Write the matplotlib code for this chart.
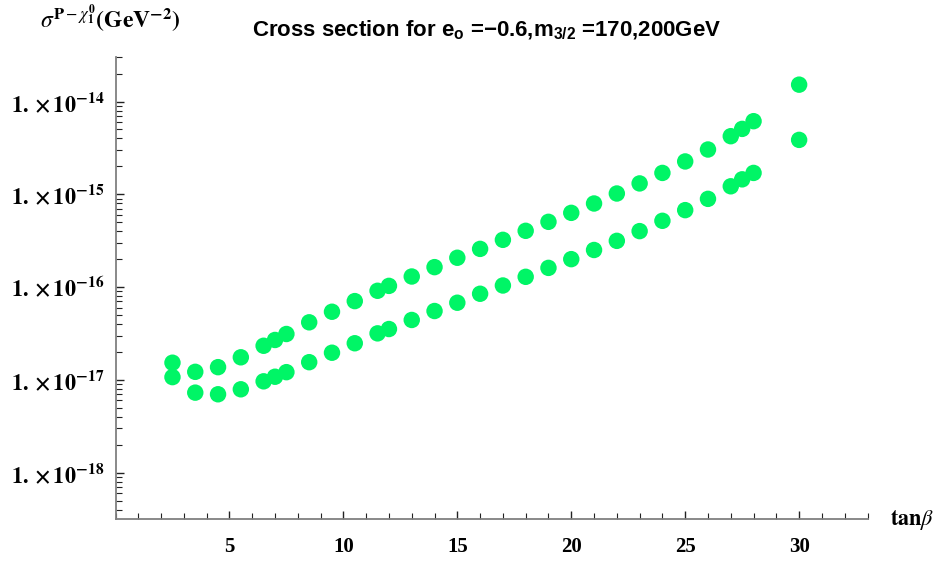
import numpy as np
import matplotlib
matplotlib.use("Agg")
import matplotlib.pyplot as plt
from matplotlib.ticker import FixedLocator, MultipleLocator, LogLocator, NullFormatter

# tan(beta) scan points
tan_beta = [2.5, 3.5, 4.5, 5.5, 6.5, 7, 7.5, 8.5, 9.5, 10.5, 11.5, 12, 13, 14, 15,
            16, 17, 18, 19, 20, 21, 22, 23, 24, 25, 26, 27, 27.5, 28, 30]

# cross sections (GeV^-2), m_3/2 = 170 GeV
sigma_170 = [1.53e-17, 1.22e-17, 1.37e-17, 1.75e-17, 2.33e-17, 2.69e-17, 3.12e-17,
             4.17e-17, 5.42e-17, 7.06e-17, 9.12e-17, 1.03e-16, 1.30e-16, 1.64e-16,
             2.07e-16, 2.58e-16, 3.23e-16, 4.04e-16, 5.05e-16, 6.31e-16, 7.96e-16,
             1.02e-15, 1.31e-15, 1.70e-15, 2.26e-15, 3.04e-15, 4.23e-15, 5.07e-15,
             6.14e-15, 1.52e-14]

# cross sections (GeV^-2), m_3/2 = 200 GeV
sigma_200 = [1.07e-17, 7.28e-18, 6.99e-18, 7.91e-18, 9.64e-18, 1.08e-17, 1.21e-17,
             1.55e-17, 1.96e-17, 2.48e-17, 3.17e-17, 3.53e-17, 4.42e-17, 5.52e-17,
             6.78e-17, 8.47e-17, 1.04e-16, 1.29e-16, 1.61e-16, 2.00e-16, 2.51e-16,
             3.15e-16, 4.01e-16, 5.18e-16, 6.75e-16, 8.93e-16, 1.22e-15, 1.45e-15,
             1.70e-15, 3.86e-15]

x_ticks = [5, 10, 15, 20, 25, 30]
y_decades = [-18, -17, -16, -15, -14]

plt.rcParams["mathtext.fontset"] = "custom"
plt.rcParams["mathtext.rm"] = "Liberation Sans:bold"
plt.rcParams["mathtext.bf"] = "Liberation Sans:bold"
plt.rcParams["mathtext.it"] = "Liberation Sans:bold"

fig = plt.figure(figsize=(9.38, 5.61), dpi=100)
ax = fig.add_axes([115.5 / 938, 42 / 561, 752 / 938, 462 / 561])

green = "#00F566"
for sig in (sigma_170, sigma_200):
    ax.scatter(tan_beta, sig, s=140, color=green, edgecolors="none", zorder=3)

ax.set_yscale("log")
ax.set_xlim(0, 33)
ax.set_ylim(10 ** -18.5, 10 ** -13.52)

for side in ("top", "right"):
    ax.spines[side].set_visible(False)
for side in ("left", "bottom"):
    ax.spines[side].set_color("#808080")
    ax.spines[side].set_linewidth(1.3)

ax.xaxis.set_major_locator(FixedLocator(x_ticks))
ax.xaxis.set_minor_locator(MultipleLocator(1))
ax.set_xticklabels([str(t) for t in x_ticks], fontfamily="Liberation Serif",
                   fontweight="bold", fontsize=15)

ax.yaxis.set_major_locator(FixedLocator([10.0 ** d for d in y_decades]))
ax.yaxis.set_minor_locator(LogLocator(base=10, subs=np.arange(2, 10), numticks=20))
ax.yaxis.set_minor_formatter(NullFormatter())
ylabels = ax.set_yticklabels([r"$\mathbf{1.\times 10^{%d}}$" % d for d in y_decades],
                             fontsize=16)
for lab in ylabels:
    lab.set_math_fontfamily("stix")

ax.tick_params(which="both", direction="in", color="#222222")
ax.tick_params(axis="x", which="major", length=6, width=1, pad=13)
ax.tick_params(axis="x", which="minor", length=4, width=0.8)
ax.tick_params(axis="y", which="major", length=6, width=1, pad=8)
ax.tick_params(axis="y", which="minor", length=4, width=0.8)

fig.text(487 / 938, 1 - 30 / 561,
         r"Cross section for e$_{\mathbf{o}}$ =$-$0.6,m$_{\mathbf{3/2}}$ =170,200GeV",
         ha="center", va="center", fontsize=16, fontweight="bold",
         fontfamily="Liberation Sans")

ylab = fig.text(40 / 938, 1 - 19 / 561,
                r"$\sigma^{\mathbf{P}-\chi_{\mathbf{1}}^{\mathbf{0}}}\mathbf{(GeV^{-2})}$",
                ha="left", va="center", fontsize=17)
ylab.set_math_fontfamily("stix")

xlab = fig.text(890 / 938, 1 - 520 / 561, r"$\mathbf{tan}\beta$",
                ha="left", va="center", fontsize=16)
xlab.set_math_fontfamily("stix")

fig.savefig("out.png", dpi=100, facecolor="white")
